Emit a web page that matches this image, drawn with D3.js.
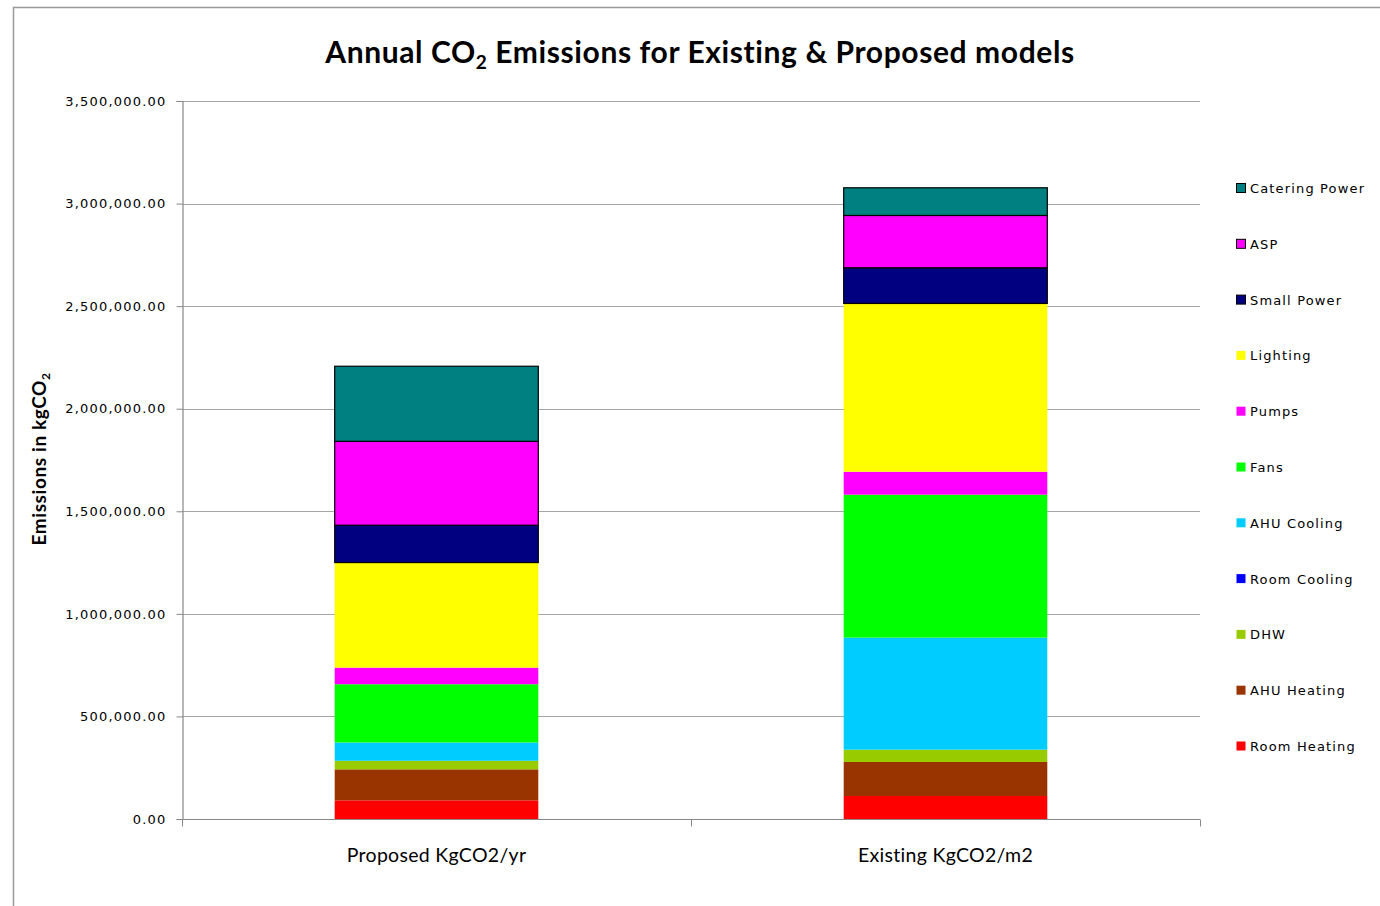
<!DOCTYPE html>
<html>
<head>
<meta charset="utf-8">
<script src="https://cdn.jsdelivr.net/npm/d3@7"></script>
<style>
  body { margin: 0; background: #fff; }
  svg text { fill: #000; }
</style>
</head>
<body>
<svg id="chart" width="1380" height="906"></svg>
<script>
// Stacked columns, bottom to top
const categories = ['Proposed KgCO2/yr', 'Existing KgCO2/m2'];
const seriesNames = ['Room Heating', 'AHU Heating', 'DHW', 'Room Cooling', 'AHU Cooling',
  'Fans', 'Pumps', 'Lighting', 'Small Power', 'ASP', 'Catering Power'];
const seriesColors = ['#ff0000', '#993300', '#99cc00', '#0000ff', '#00ccff',
  '#00ff00', '#ff00ff', '#ffff00', '#000080', '#ff00ff', '#008080'];
// which series get the dark outline
const outlined = ['Small Power', 'ASP', 'Catering Power'];
const proposedValues = [91000, 151000, 42000, 0, 89000, 284000, 81000, 512000, 182000, 409000, 366000];
const existingValues = [112000, 166000, 60000, 0, 546000, 697000, 112000, 820000, 174000, 255000, 135000];
const yTicks = [0, 500000, 1000000, 1500000, 2000000, 2500000, 3000000, 3500000];

const svg = d3.select('#chart');

// outer chart frame (runs off the right / bottom of the picture)
svg.append('rect')
  .attr('x', 13.5).attr('y', 7.5)
  .attr('width', 1400).attr('height', 1000)
  .attr('fill', 'none').attr('stroke', '#999').attr('stroke-width', 1.5);

const plot = {left: 182, right: 1200, top: 101, bottom: 819};

const x = d3.scaleBand()
  .domain(categories)
  .range([plot.left, plot.right])
  .paddingInner(0.6)
  .paddingOuter(0.3);

const y = d3.scaleLinear()
  .domain([0, 3500000])
  .range([plot.bottom, plot.top]);

// gridlines
svg.append('g')
  .selectAll('line').data(yTicks.slice(1))
  .join('line')
  .attr('x1', plot.left).attr('x2', plot.right)
  .attr('y1', d => Math.round(y(d)) + 0.5).attr('y2', d => Math.round(y(d)) + 0.5)
  .attr('stroke', '#a6a6a6').attr('stroke-width', 1.2);

// stacked data
const rows = categories.map((c, i) => {
  let r = {cat: c};
  seriesNames.forEach((s, j) => { r[s] = (i === 0 ? proposedValues : existingValues)[j]; });
  return r;
});
const stacked = d3.stack().keys(seriesNames)(rows);
const color = d3.scaleOrdinal(seriesNames, seriesColors);

svg.append('g')
  .selectAll('g').data(stacked)
  .join('g')
  .attr('fill', d => color(d.key))
  .attr('stroke', d => outlined.includes(d.key) ? '#000' : 'none')
  .attr('stroke-width', 1.2)
  .selectAll('rect').data(d => d.filter(p => p[1] > p[0]))
  .join('rect')
  .attr('x', d => x(d.data.cat))
  .attr('width', x.bandwidth())
  .attr('y', d => y(d[1]))
  .attr('height', d => y(d[0]) - y(d[1]));

// y axis
const yAxis = svg.append('g')
  .attr('transform', `translate(${plot.left + 0.5},0)`)
  .call(d3.axisLeft(y).tickValues(yTicks).tickSize(6).tickPadding(10)
    .tickFormat(d3.format(',.2f')));
yAxis.select('.domain').attr('stroke', '#888').attr('stroke-width', 1.2);
yAxis.selectAll('.tick line').attr('stroke', '#888');
yAxis.selectAll('.tick text')
  .attr('font-family', 'DejaVu Sans').attr('font-size', 13)
  .attr('letter-spacing', 1.2).attr('fill', '#000');

// x axis
const xAxis = svg.append('g')
  .attr('transform', `translate(0,${plot.bottom + 0.5})`);
xAxis.append('line')
  .attr('x1', plot.left).attr('x2', plot.right)
  .attr('stroke', '#888').attr('stroke-width', 1.2);
xAxis.selectAll('.xt').data([plot.left, (plot.left + plot.right) / 2, plot.right])
  .join('line').classed('xt', true)
  .attr('x1', d => d + 0.5).attr('x2', d => d + 0.5)
  .attr('y1', 0).attr('y2', 7)
  .attr('stroke', '#888');
xAxis.selectAll('text').data(categories)
  .join('text')
  .attr('x', d => x(d) + x.bandwidth() / 2)
  .attr('y', 42)
  .attr('text-anchor', 'middle')
  .attr('font-family', 'Lato').attr('font-size', 19.5)
  .attr('letter-spacing', 0.3)
  .text(d => d);

// title
const title = svg.append('text')
  .attr('x', 700).attr('y', 63)
  .attr('text-anchor', 'middle')
  .attr('font-family', 'Lato').attr('font-weight', 'bold').attr('font-size', 30)
  .attr('letter-spacing', 0.6);
title.append('tspan').text('Annual CO');
title.append('tspan').attr('font-size', 19).attr('dy', 6).text('2');
title.append('tspan').attr('dy', -6).text(' Emissions for Existing & Proposed models');

// y axis title
const ytitle = svg.append('text')
  .attr('transform', 'translate(46,459) rotate(-90)')
  .attr('text-anchor', 'middle')
  .attr('font-family', 'Lato').attr('font-weight', 'bold').attr('font-size', 19)
  .attr('letter-spacing', 0.6);
ytitle.append('tspan').text('Emissions in kgCO');
ytitle.append('tspan').attr('font-size', 12).attr('dy', 4).text('2');

// legend, top entry is the top of the stack
const legendItems = seriesNames.slice().reverse();
const legend = svg.append('g')
  .selectAll('g').data(legendItems)
  .join('g')
  .attr('transform', (d, i) => `translate(1236,${188 + i * 55.8})`);
legend.append('rect')
  .attr('x', 0.5).attr('y', -4.5)
  .attr('width', 9).attr('height', 9)
  .attr('fill', d => color(d))
  .attr('stroke', d => outlined.includes(d) ? '#000' : 'none');
legend.append('text')
  .attr('x', 14).attr('y', 5)
  .attr('font-family', 'DejaVu Sans').attr('font-size', 13)
  .attr('letter-spacing', 1.15)
  .text(d => d);
</script>
</body>
</html>
